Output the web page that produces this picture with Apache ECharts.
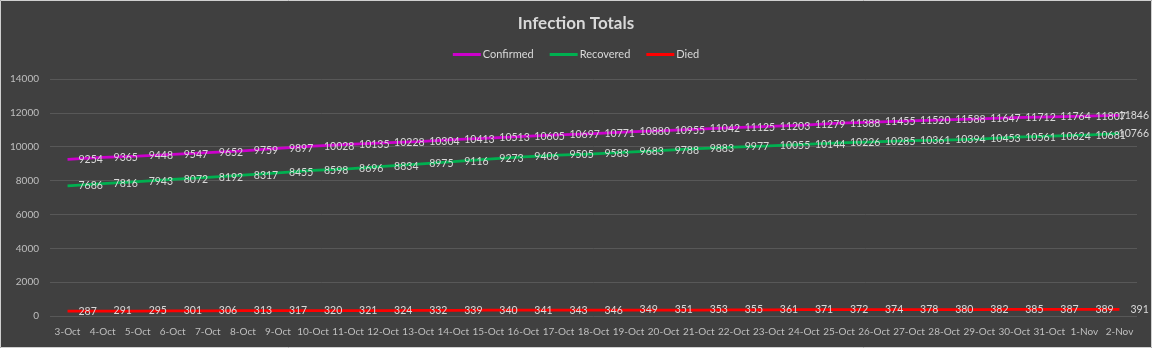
<!DOCTYPE html>
<html>
<head>
<meta charset="utf-8">
<script src="https://cdn.jsdelivr.net/npm/echarts@6/dist/echarts.min.js"></script>
<style>
  html, body { margin: 0; padding: 0; background: #404040; }
  #chart { width: 1152px; height: 348px; }
</style>
</head>
<body>
<div id="chart"></div>
<script>
// Daily cumulative totals, 3-Oct to 2-Nov
const dates = ['3-Oct','4-Oct','5-Oct','6-Oct','7-Oct','8-Oct','9-Oct','10-Oct','11-Oct','12-Oct',
  '13-Oct','14-Oct','15-Oct','16-Oct','17-Oct','18-Oct','19-Oct','20-Oct','21-Oct','22-Oct',
  '23-Oct','24-Oct','25-Oct','26-Oct','27-Oct','28-Oct','29-Oct','30-Oct','31-Oct','1-Nov','2-Nov'];

const confirmed = [9254, 9365, 9448, 9547, 9652, 9759, 9897, 10028, 10135, 10228,
  10304, 10413, 10513, 10605, 10697, 10771, 10880, 10955, 11042, 11125,
  11203, 11279, 11388, 11455, 11520, 11588, 11647, 11712, 11764, 11807, 11846];

const recovered = [7686, 7816, 7943, 8072, 8192, 8317, 8455, 8598, 8696, 8834,
  8975, 9116, 9273, 9406, 9505, 9583, 9683, 9788, 9883, 9977,
  10055, 10144, 10226, 10285, 10361, 10394, 10453, 10561, 10624, 10681, 10766];

const died = [287, 291, 295, 301, 306, 313, 317, 320, 321, 324,
  332, 339, 340, 341, 343, 346, 349, 351, 353, 355,
  361, 371, 372, 374, 378, 380, 382, 385, 387, 389, 391];

const FONT = 'Lato, "Noto Sans", sans-serif';
const CHART_W = 1152;

// Pull any label that would run past the right edge back inside it
function keepInside(params) {
  const r = params.labelRect;
  const overflow = r.x + r.width - (CHART_W - 3);
  return overflow > 0 ? { dx: -overflow } : {};
}

function lineSeries(name, values, color) {
  return {
    name: name,
    type: 'line',
    data: values,
    symbol: 'circle',
    symbolSize: 0,
    showSymbol: true,
    showAllSymbol: true,
    smooth: false,
    lineStyle: { color: color, width: 2.75 },
    itemStyle: { color: color },
    label: {
      show: true,
      position: 'right',
      distance: 11,
      color: '#d9d9d9',
      fontFamily: FONT,
      fontSize: 10.5
    },
    labelLayout: keepInside,
    emphasis: { disabled: true },
    animation: false
  };
}

const chart = echarts.init(document.getElementById('chart'), null, { renderer: 'canvas' });

chart.setOption({
  backgroundColor: '#404040',
  animation: false,
  title: {
    text: 'Infection Totals',
    left: 'center',
    top: 10,
    textStyle: { color: '#d9d9d9', fontFamily: FONT, fontSize: 17, fontWeight: 'bold' }
  },
  legend: {
    top: 44,
    left: 'center',
    icon: 'rect',
    itemWidth: 28,
    itemHeight: 3,
    itemGap: 16,
    textStyle: { color: '#d9d9d9', fontFamily: FONT, fontSize: 11, padding: [0, 0, 0, -3] },
    data: ['Confirmed', 'Recovered', 'Died']
  },
  grid: { left: 50, right: 15, top: 79, bottom: 32 },
  xAxis: {
    type: 'category',
    data: dates,
    boundaryGap: true,
    axisLine: { show: false },
    axisTick: { show: false },
    axisLabel: { color: '#bfbfbf', fontFamily: FONT, fontSize: 10, margin: 11, interval: 0 }
  },
  yAxis: {
    type: 'value',
    min: 0,
    max: 14000,
    interval: 2000,
    axisLine: { show: false },
    axisTick: { show: false },
    axisLabel: { color: '#bfbfbf', fontFamily: FONT, fontSize: 10, margin: 11, formatter: v => String(v) },
    splitLine: { lineStyle: { color: '#585858', width: 1 } }
  },
  graphic: [{
    type: 'rect',
    shape: { x: 0.5, y: 0.5, width: 1151, height: 347 },
    style: { fill: 'none', stroke: '#d0d0d0', lineWidth: 1 },
    silent: true,
    z: 100
  }],
  series: [
    lineSeries('Confirmed', confirmed, '#cc00cc'),
    lineSeries('Recovered', recovered, '#00b050'),
    lineSeries('Died', died, '#ff0000')
  ]
});
</script>
</body>
</html>
